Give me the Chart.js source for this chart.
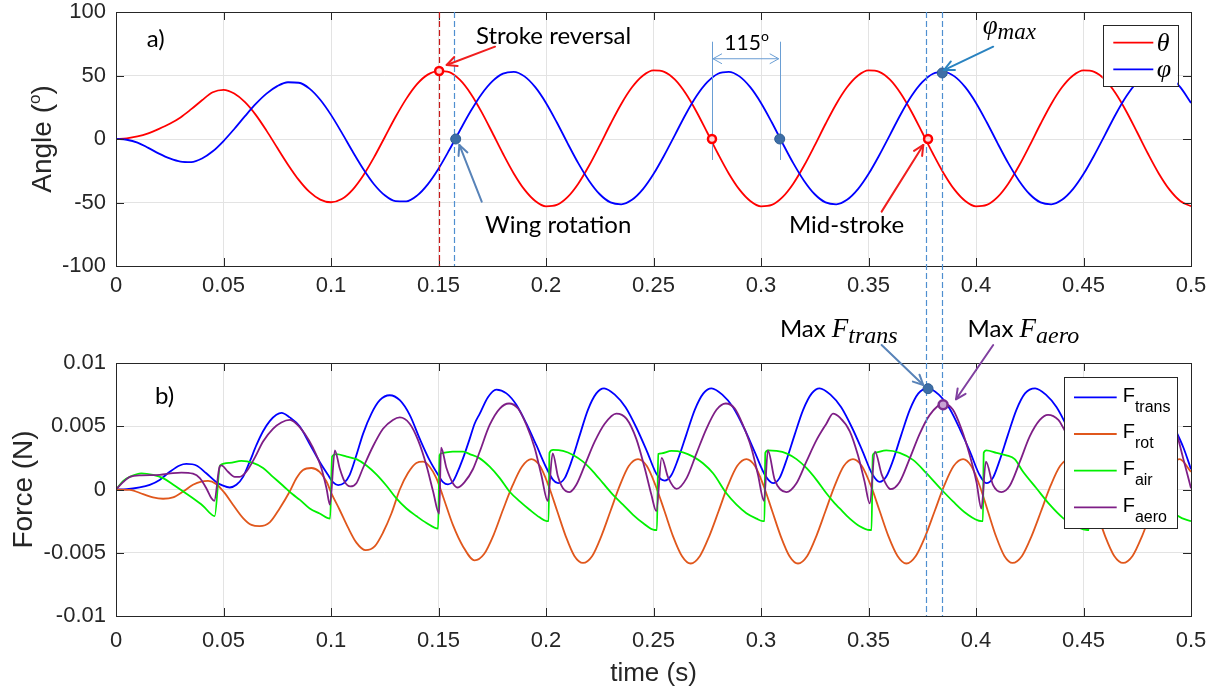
<!DOCTYPE html>
<html>
<head>
<meta charset="utf-8">
<title>Angle and force</title>
<script src="https://cdn.jsdelivr.net/npm/chart.js@4.4.1/dist/chart.umd.min.js"></script>
<style>
  body { margin: 0; background: #fff; }
  #quadro { position: relative; width: 1217px; height: 690px; }
  #quadro canvas { position: absolute; left: 0; }
</style>
</head>
<body>
<div id="quadro">
  <canvas id="graficoAngulo" width="1217" height="300" style="top:0"></canvas>
  <canvas id="graficoForca" width="1217" height="390" style="top:300px"></canvas>
</div>
<script>
// ---- dados ----
const rotulosTempo = ['0', '0.05', '0.1', '0.15', '0.2', '0.25', '0.3', '0.35', '0.4', '0.45', '0.5'];
const rotulosAngulo = ['-100', '-50', '0', '50', '100'];
const rotulosForca = ['-0.01', '-0.005', '0', '0.005', '0.01'];

const tAngulo = [
  0, 0.005, 0.01, 0.015, 0.02, 0.025, 0.03, 0.035, 0.04, 0.045,
  0.05, 0.055, 0.06, 0.065, 0.07, 0.075, 0.08, 0.085, 0.09, 0.095,
  0.1, 0.105, 0.11, 0.115, 0.12, 0.125, 0.13, 0.135, 0.14, 0.145,
  0.15, 0.155, 0.16, 0.165, 0.17, 0.175, 0.18, 0.185, 0.19, 0.195,
  0.2, 0.205, 0.21, 0.215, 0.22, 0.225, 0.23, 0.235, 0.24, 0.245,
  0.25, 0.255, 0.26, 0.265, 0.27, 0.275, 0.28, 0.285, 0.29, 0.295,
  0.3, 0.305, 0.31, 0.315, 0.32, 0.325, 0.33, 0.335, 0.34, 0.345,
  0.35, 0.355, 0.36, 0.365, 0.37, 0.375, 0.38, 0.385, 0.39, 0.395,
  0.4, 0.405, 0.41, 0.415, 0.42, 0.425, 0.43, 0.435, 0.44, 0.445,
  0.45, 0.455, 0.46, 0.465, 0.47, 0.475, 0.48, 0.485, 0.49, 0.495, 0.5
];
// theta (graus)
const theta = [
  0, 0.5, 2.0, 4.5, 8.0, 12.0, 17.0, 23.5, 30.5, 36.8,
  38.7, 35.8, 29.0, 19.0, 6.6, -6.9, -20.2, -32.2, -41.7, -47.7,
  -49.8, -47.3, -40.0, -28.7, -14.5, 1.4, 17.3, 31.6, 43.2, 50.7,
  53.5, 52.7, 46.5, 35.7, 21.4, 5.1, -11.6, -27.1, -39.9, -48.8,
  -53.0, -51.9, -45.8, -35.2, -21.1, -5.0, 11.8, 27.6, 40.7, 49.8,
  54.0, 52.9, 46.7, 35.8, 21.5, 5.1, -11.6, -27.1, -39.9, -48.8,
  -53.0, -51.9, -45.8, -35.2, -21.1, -5.0, 11.8, 27.6, 40.7, 49.8,
  54.0, 52.9, 46.7, 35.8, 21.5, 5.1, -11.6, -27.1, -39.9, -48.8,
  -53.0, -51.9, -45.8, -35.2, -21.1, -5.0, 11.8, 27.6, 40.7, 49.8,
  54.0, 52.9, 46.7, 35.8, 21.5, 5.1, -11.6, -27.1, -39.9, -48.8, -53.0
];
// phi (graus)
const phi = [
  0, -0.6, -2.8, -7.0, -11.5, -15.3, -17.8, -18.2, -15.4, -9.7,
  -1.6, 7.9, 18.0, 27.6, 35.7, 41.6, 44.7, 44.3, 39.7, 30.9,
  19.0, 5.0, -9.7, -23.6, -35.6, -44.3, -48.9, -49.1, -44.6, -35.7,
  -23.4, -8.7, 6.9, 22.0, 35.3, 45.4, 51.5, 52.9, 49.3, 40.8,
  28.4, 13.2, -3.2, -19.0, -32.8, -43.5, -49.9, -51.4, -47.9, -39.7,
  -27.6, -12.8, 3.3, 19.5, 33.8, 44.7, 51.4, 52.9, 49.3, 40.8,
  28.4, 13.2, -3.2, -19.0, -32.8, -43.5, -49.9, -51.4, -47.9, -39.7,
  -27.6, -12.8, 3.3, 19.5, 33.8, 44.7, 51.4, 52.9, 49.3, 40.8,
  28.4, 13.2, -3.2, -19.0, -32.8, -43.5, -49.9, -51.4, -47.9, -39.7,
  -27.6, -12.8, 3.3, 19.5, 33.8, 44.7, 51.4, 52.9, 49.3, 40.8, 28.4
];

// forcas (N): pares [tempo, valor]
const fTrans = [
  [0, 0], [0.005, 0.00002], [0.011, 0.00016], [0.0157, 0.00037], [0.0203, 0.00076], [0.025, 0.0014],
  [0.0296, 0.0019], [0.0327, 0.00202], [0.0374, 0.0019], [0.042, 0.00128], [0.0467, 0.00058],
  [0.0498, 0.0003], [0.0529, 0.00016], [0.056, 0.00037], [0.0591, 0.001], [0.0622, 0.0022],
  [0.0653, 0.0035], [0.0684, 0.0046], [0.0715, 0.0054], [0.0746, 0.0059], [0.077, 0.00606],
  [0.0808, 0.0057], [0.0854, 0.005], [0.0901, 0.0036], [0.0947, 0.0022], [0.0986, 0.00116],
  [0.1009, 0.00058], [0.1033, 0.00035], [0.106, 0.0005], [0.1087, 0.00116], [0.1118, 0.0027],
  [0.1149, 0.0044], [0.1188, 0.006], [0.1227, 0.00706], [0.1273, 0.00745], [0.132, 0.00706],
  [0.1366, 0.0059], [0.1413, 0.004], [0.1459, 0.0023], [0.1498, 0.00116], [0.1521, 0.00058],
  [0.1544, 0.0004], [0.1567, 0.00063], [0.1583, 0.00116], [0.1614, 0.00246], [0.1645, 0.004],
  [0.1668, 0.0052], [0.1692, 0.006], [0.173, 0.0073], [0.1769, 0.0079], [0.1816, 0.0076],
  [0.1862, 0.0067], [0.1909, 0.0052], [0.1955, 0.0035], [0.2002, 0.0017], [0.2033, 0.00076],
  [0.2056, 0.0005], [0.2087, 0.0009], [0.2118, 0.0022], [0.2157, 0.0043], [0.2195, 0.0063],
  [0.2234, 0.0076], [0.227, 0.008],
  [0.232, 0.0075], [0.237, 0.0065], [0.242, 0.0049], [0.247, 0.003], [0.2515, 0.0012], [0.2552, 0.0007],
  [0.2582, 0.0011], [0.2612, 0.0023], [0.2652, 0.0043], [0.2692, 0.0063], [0.2732, 0.0076], [0.277, 0.008],
  [0.282, 0.0075], [0.287, 0.0065], [0.292, 0.0049], [0.297, 0.003], [0.302, 0.0011], [0.3056, 0.0005],
  [0.3086, 0.0009], [0.3116, 0.0022], [0.3156, 0.0043], [0.3196, 0.0063], [0.3236, 0.0076], [0.3273, 0.008],
  [0.3323, 0.0075], [0.3373, 0.0065], [0.3423, 0.0049], [0.3473, 0.003], [0.3518, 0.0012], [0.3552, 0.0006],
  [0.3582, 0.001], [0.3612, 0.0022], [0.3652, 0.0043], [0.3692, 0.0063], [0.3732, 0.0076], [0.3777, 0.008],
  [0.3827, 0.0075], [0.3877, 0.0064], [0.3927, 0.0047], [0.3972, 0.003], [0.4015, 0.0012], [0.4048, 0.0005],
  [0.4078, 0.0009], [0.4108, 0.0022], [0.4148, 0.0043], [0.4188, 0.0063], [0.4228, 0.0076], [0.4275, 0.008],
  [0.4325, 0.0075], [0.4375, 0.0065], [0.4425, 0.0049], [0.4475, 0.003], [0.4515, 0.0012], [0.455, 0.0006],
  [0.458, 0.001], [0.461, 0.0022], [0.465, 0.0043], [0.469, 0.0063], [0.473, 0.0076], [0.4775, 0.008],
  [0.4825, 0.0075], [0.4875, 0.0065], [0.4925, 0.0048], [0.4965, 0.0033], [0.5, 0.0016]
];
const fRot = [
  [0, 0], [0.0064, -0.00003], [0.0126, -0.00037], [0.0172, -0.00063], [0.0219, -0.00073], [0.0265, -0.00063],
  [0.0312, -0.00016], [0.0358, 0.00037], [0.0397, 0.00063], [0.0428, 0.00068], [0.0467, 0.00042],
  [0.0506, -0.00029], [0.0544, -0.0012], [0.0591, -0.00226], [0.063, -0.0028], [0.0668, -0.0029],
  [0.0715, -0.0026], [0.0761, -0.0015], [0.0808, -0.00016], [0.0839, 0.00089], [0.087, 0.00155],
  [0.0909, 0.0017], [0.0947, 0.0014], [0.0979, 0.00063], [0.1002, -0.0003], [0.104, -0.0016],
  [0.1079, -0.003], [0.1118, -0.0042], [0.1161, -0.0048], [0.1203, -0.0045], [0.1242, -0.0034],
  [0.1281, -0.0019], [0.132, 0], [0.1358, 0.0013], [0.1397, 0.0021], [0.1428, 0.0022], [0.1459, 0.0018],
  [0.149, 0.0009], [0.1521, -0.00055], [0.1567, -0.0028], [0.1614, -0.0045], [0.1668, -0.0056],
  [0.1712, -0.0051], [0.1756, -0.0036], [0.18, -0.0016], [0.1844, 0.0003], [0.1888, 0.0018], [0.1932, 0.0024],
  [0.1972, 0.00185], [0.2012, 0.0003], [0.2052, -0.0017], [0.2092, -0.0037], [0.2132, -0.00525], [0.2172, -0.0058],
  [0.2215, -0.00525], [0.2257, -0.0037], [0.23, -0.0017], [0.2343, 0.0003], [0.2385, 0.00185], [0.2428, 0.0024],
  [0.2469, 0.00185], [0.251, 0.0003], [0.2551, -0.0017], [0.2591, -0.0037], [0.2632, -0.00525], [0.2673, -0.00585],
  [0.2716, -0.00525], [0.2759, -0.0037], [0.2803, -0.0017], [0.2846, 0.0003], [0.2889, 0.00185], [0.2932, 0.0024],
  [0.2972, 0.00185], [0.3012, 0.0003], [0.3052, -0.0017], [0.3092, -0.0037], [0.3132, -0.00525], [0.3172, -0.00585],
  [0.3215, -0.00525], [0.3257, -0.0037], [0.33, -0.0017], [0.3343, 0.0003], [0.3385, 0.00185], [0.3428, 0.0024],
  [0.3469, 0.00185], [0.3511, 0.0003], [0.3552, -0.0017], [0.3593, -0.0037], [0.3635, -0.00525], [0.3676, -0.00585],
  [0.372, -0.00525], [0.3764, -0.0037], [0.3808, -0.0017], [0.3852, 0.0003], [0.3896, 0.00185], [0.394, 0.0024],
  [0.3978, 0.00185], [0.4017, 0.0003], [0.4055, -0.0017], [0.4093, -0.0037], [0.4132, -0.00525], [0.417, -0.0058],
  [0.4214, -0.00525], [0.4258, -0.0037], [0.4303, -0.0017], [0.4347, 0.0003], [0.4391, 0.00185], [0.4435, 0.0024],
  [0.4477, 0.00185], [0.4518, 0.0003], [0.456, -0.0017], [0.4601, -0.0037], [0.4643, -0.00525], [0.4684, -0.0058],
  [0.4728, -0.00525], [0.4772, -0.0037], [0.4816, -0.0017], [0.4859, 0.0003], [0.4903, 0.00185], [0.4947, 0.0024],
  [0.5, 0.0014]
];
const fAir = [
  [0, 0], [0.0034, 0.00068], [0.0064, 0.001], [0.0118, 0.00128], [0.0172, 0.00116], [0.0219, 0.0009],
  [0.0265, 0.0004], [0.0312, -0.00016], [0.0358, -0.0007], [0.0405, -0.0013], [0.0459, -0.0021],
  [0.0484, 0.0019], [0.0529, 0.0021], [0.0583, 0.00226], [0.0637, 0.0021], [0.0684, 0.0017], [0.073, 0.001],
  [0.0777, 0.0003], [0.0823, -0.0004], [0.0854, -0.0008], [0.0901, -0.0015], [0.0947, -0.0019],
  [0.0996, -0.0023], [0.1005, 0.0026], [0.1025, 0.0028], [0.1073, 0.0026], [0.1118, 0.0024], [0.1165, 0.0019],
  [0.1211, 0.0012], [0.1258, 0.0003], [0.1304, -0.0007], [0.1351, -0.0015], [0.1397, -0.0021],
  [0.1444, -0.00265], [0.1498, -0.0031], [0.1505, 0.0027], [0.1513, 0.00286], [0.1567, 0.003], [0.1614, 0.003],
  [0.1645, 0.0028], [0.1692, 0.00246], [0.1738, 0.0018], [0.1785, 0.0009], [0.183, -0.00016],
  [0.1878, -0.00094], [0.1924, -0.0016], [0.197, -0.0022], [0.2003, -0.0025], [0.2012, -0.0025],
  [0.2016, 0.0029], [0.2033, 0.00313], [0.2079, 0.00305], [0.2126, 0.00273], [0.2172, 0.0022],
  [0.2219, 0.00142], [0.2265, 0.0005], [0.2312, -0.00042], [0.2358, -0.0012], [0.2405, -0.002],
  [0.2451, -0.00265], [0.2506, -0.0032], [0.2516, -0.0032], [0.2522, 0.0028], [0.2537, 0.00286],
  [0.2583, 0.00305], [0.2637, 0.00294], [0.2684, 0.0026], [0.273, 0.00207], [0.2777, 0.00128],
  [0.2839, -0.0003], [0.2886, -0.0012], [0.2932, -0.00187], [0.2979, -0.0023], [0.3009, -0.0025],
  [0.3016, -0.0025], [0.302, 0.0029], [0.3033, 0.0031], [0.3071, 0.00305], [0.3118, 0.00286],
  [0.3165, 0.0024], [0.3211, 0.0017], [0.3258, 0.00076], [0.3304, -0.0003], [0.3343, -0.0011],
  [0.3366, -0.0015], [0.3413, -0.0023], [0.3459, -0.0029], [0.3506, -0.0032], [0.3514, -0.0032],
  [0.352, 0.0027], [0.3529, 0.0029], [0.3583, 0.0031], [0.3645, 0.0029], [0.3707, 0.00234],
  [0.3769, 0.0013], [0.3839, 0], [0.3893, -0.00094], [0.3955, -0.0019], [0.4025, -0.0025],
  [0.4032, -0.0025], [0.4036, 0.0029], [0.4048, 0.0031], [0.4095, 0.0029], [0.4141, 0.0027],
  [0.418, 0.0024], [0.4219, 0.0014], [0.4281, 0.0001], [0.4343, -0.0012], [0.4405, -0.00226],
  [0.4475, -0.003], [0.4518, -0.0032], [0.4525, -0.0032], [0.453, 0.0027], [0.4545, 0.003],
  [0.459, 0.0031], [0.465, 0.0029], [0.471, 0.0023], [0.477, 0.0012], [0.483, 0], [0.488, -0.0009],
  [0.494, -0.0021], [0.5, -0.0025]
];
const fAero = [
  [0, 0], [0.0034, 0.0006], [0.0064, 0.001], [0.0118, 0.00112], [0.0203, 0.00116], [0.0265, 0.0013],
  [0.0304, 0.00134], [0.0358, 0.00125], [0.039, 0.0009], [0.042, 0.0001], [0.0444, -0.0007],
  [0.0457, -0.0009], [0.0482, 0.0018], [0.049, 0.0019], [0.0521, 0.0014], [0.0552, 0.001], [0.0575, 0.001],
  [0.0606, 0.0014], [0.0645, 0.0025], [0.0684, 0.0038], [0.073, 0.0048], [0.0769, 0.0053], [0.0808, 0.0055],
  [0.0839, 0.0052], [0.0878, 0.0044], [0.0916, 0.0033], [0.0955, 0.0017], [0.0979, 0.0001],
  [0.0995, -0.0012], [0.1018, 0.0031], [0.104, 0.0017], [0.1064, 0.0006], [0.109, 0.00024],
  [0.1118, 0.0005], [0.1149, 0.0017], [0.1195, 0.0034], [0.1242, 0.0048], [0.1288, 0.0055], [0.132, 0.0057],
  [0.1366, 0.0052], [0.1405, 0.0039], [0.1444, 0.0019], [0.1475, -0.00016], [0.1503, -0.0019],
  [0.1512, 0.0033], [0.1537, 0.0017], [0.1567, 0.0005], [0.159, 0.00016], [0.1622, 0.0006], [0.166, 0.0016],
  [0.1692, 0.003], [0.1738, 0.0051], [0.1785, 0.0064], [0.1828, 0.0068], [0.187, 0.0064], [0.1909, 0.0051],
  [0.1947, 0.0033], [0.1978, 0.00116], [0.2008, -0.0009], [0.2031, 0.00286], [0.2056, 0.001],
  [0.2079, 0.0001], [0.211, -0.0002], [0.2141, 0.00037], [0.218, 0.0019], [0.2227, 0.0038],
  [0.2273, 0.0052], [0.2327, 0.006], [0.2374, 0.0056], [0.242, 0.004], [0.2459, 0.0017], [0.249, -0.0004],
  [0.2513, -0.0017], [0.2538, 0.0025], [0.2567, 0.001], [0.2607, 0.00005], [0.2654, 0.0009], [0.27, 0.00286],
  [0.2746, 0.0048], [0.2793, 0.0063], [0.2836, 0.0068], [0.2878, 0.0064], [0.2916, 0.0051], [0.2955, 0.0033],
  [0.2986, 0.00116], [0.3014, -0.0009], [0.3032, 0.0031], [0.3064, 0.00076], [0.3118, -0.0002],
  [0.3165, 0.0005], [0.3211, 0.0022], [0.3258, 0.0039], [0.3304, 0.0052], [0.3335, 0.006], [0.3366, 0.0057],
  [0.3413, 0.0046], [0.3451, 0.0027], [0.3482, 0.0006], [0.3506, -0.0011], [0.353, 0.003], [0.3562, 0.00116],
  [0.3603, 0.00003], [0.3645, 0.0006], [0.3692, 0.00246], [0.3738, 0.0044], [0.3785, 0.0059],
  [0.3847, 0.0068], [0.3893, 0.0063], [0.3932, 0.0048], [0.3971, 0.0027], [0.4002, 0.0006],
  [0.4025, -0.0015], [0.4046, 0.0022], [0.4079, 0.00037], [0.4118, -0.0002], [0.4157, 0.0003],
  [0.4204, 0.0022], [0.425, 0.0042], [0.4297, 0.0055], [0.4335, 0.0059], [0.4383, 0.0055], [0.4405, 0.0049],
  [0.4445, 0.0035], [0.448, 0.0017], [0.451, -0.0005], [0.4525, -0.0016], [0.4538, 0.003], [0.4565, 0.0012],
  [0.461, 0], [0.465, 0.0006], [0.47, 0.0025], [0.4745, 0.0044], [0.479, 0.0059], [0.4855, 0.0068],
  [0.4895, 0.0062], [0.4932, 0.0045], [0.4963, 0.0025], [0.5, 0.0001]
];

// ---- estilo ----
const SANS = '"Liberation Sans", Arial, sans-serif';
const SERIF = '"Liberation Serif", "Times New Roman", serif';
const OFFICE = 'Lato, "Open Sans", sans-serif';
const COR_TEXTO = '#262626';
const COR_GRADE = '#e3e3e3';

function rotulo(lista, min, passo) {
  return valor => {
    const i = Math.round((valor - min) / passo);
    return lista[i] !== undefined ? lista[i] : '';
  };
}

function eixoX(padding, altura) {
  return {
    type: 'linear', min: 0, max: 0.5,
    ticks: {
      stepSize: 0.05, autoSkip: false, maxRotation: 0, padding, color: COR_TEXTO,
      font: { family: SANS, size: 22, lineHeight: 1 }, callback: rotulo(rotulosTempo, 0, 0.05)
    },
    grid: { color: COR_GRADE, drawTicks: false },
    border: { display: false },
    afterFit(escala) {
      escala.height = altura;
      // "0" e "0.5" cabem nas margens fixas
      escala.paddingLeft = 0;
      escala.paddingRight = 0;
    }
  };
}

function eixoY(min, max, passo, lista) {
  return {
    type: 'linear', min, max,
    ticks: {
      stepSize: passo, padding: 10, color: COR_TEXTO,
      font: { family: SANS, size: 22, lineHeight: 1 }, callback: rotulo(lista, min, passo)
    },
    grid: { color: COR_GRADE, drawTicks: false },
    border: { display: false },
    afterFit(escala) {
      escala.width = 116;
      // os rotulos extremos podem sair da area; nao empurra o grafico
      escala.paddingTop = 0;
      escala.paddingBottom = 0;
    }
  };
}

function serie(nome, pontos, cor, ordem) {
  return {
    label: nome,
    data: pontos.map(([x, y]) => ({ x, y })),
    borderColor: cor, borderWidth: 1.8, pointRadius: 0, fill: false,
    cubicInterpolationMode: 'monotone', order: ordem
  };
}

// ---- utilitarios de desenho ----
function ponto(chart, t, v) {
  return { x: chart.scales.x.getPixelForValue(t), y: chart.scales.y.getPixelForValue(v) };
}

function seta(ctx, a, b, cor) {
  const ang = Math.atan2(b.y - a.y, b.x - a.x), L = 11, abertura = 0.45;
  ctx.save();
  ctx.strokeStyle = cor; ctx.lineWidth = 2; ctx.lineCap = 'round'; ctx.lineJoin = 'round';
  ctx.beginPath(); ctx.moveTo(a.x, a.y); ctx.lineTo(b.x, b.y); ctx.stroke();
  ctx.beginPath();
  ctx.moveTo(b.x - L * Math.cos(ang - abertura), b.y - L * Math.sin(ang - abertura));
  ctx.lineTo(b.x, b.y);
  ctx.lineTo(b.x - L * Math.cos(ang + abertura), b.y - L * Math.sin(ang + abertura));
  ctx.stroke();
  ctx.restore();
}

function pontaDupla(ctx, x1, x2, y, cor) {
  ctx.save();
  ctx.strokeStyle = cor; ctx.lineWidth = 1;
  ctx.beginPath(); ctx.moveTo(x1, y); ctx.lineTo(x2, y); ctx.stroke();
  [[x1, 1], [x2, -1]].forEach(([x, s]) => {
    ctx.beginPath();
    ctx.moveTo(x + s * 9, y - 5); ctx.lineTo(x, y); ctx.lineTo(x + s * 9, y + 5);
    ctx.stroke();
  });
  ctx.restore();
}

// partes: [texto, fonte, deslocamento vertical]
function textoComposto(ctx, partes, x, y, alinhar, cor) {
  ctx.save();
  ctx.fillStyle = cor || '#000';
  ctx.textBaseline = 'alphabetic';
  ctx.textAlign = 'left';
  let largura = 0;
  partes.forEach(([txt, fonte]) => { ctx.font = fonte; largura += ctx.measureText(txt).width; });
  let cx = alinhar === 'center' ? x - largura / 2 : x;
  partes.forEach(([txt, fonte, dy]) => {
    ctx.font = fonte;
    ctx.fillText(txt, cx, y + (dy || 0));
    cx += ctx.measureText(txt).width;
  });
  ctx.restore();
}

function tituloVertical(ctx, partes, xBase, yCentro) {
  ctx.save();
  ctx.translate(xBase, yCentro);
  ctx.rotate(-Math.PI / 2);
  textoComposto(ctx, partes, 0, 0, 'center', COR_TEXTO);
  ctx.restore();
}

function linhaTracejada(ctx, x, y1, y2, cor) {
  ctx.save();
  ctx.strokeStyle = cor; ctx.lineWidth = 1.2; ctx.setLineDash([6, 3]);
  ctx.beginPath(); ctx.moveTo(Math.round(x) + 0.5, y1); ctx.lineTo(Math.round(x) + 0.5, y2); ctx.stroke();
  ctx.restore();
}

function marcador(ctx, p, raio, preenchimento, borda, espessura) {
  ctx.save();
  ctx.beginPath(); ctx.arc(p.x, p.y, raio, 0, Math.PI * 2);
  ctx.fillStyle = preenchimento; ctx.fill();
  ctx.lineWidth = espessura; ctx.strokeStyle = borda; ctx.stroke();
  ctx.restore();
}

// caixa dos eixos e marcas internas (estilo MATLAB)
const moldura = {
  id: 'moldura',
  afterDatasetsDraw(chart) {
    const { ctx, chartArea: a, scales } = chart;
    ctx.save();
    ctx.strokeStyle = '#262626'; ctx.lineWidth = 1;
    const L = 8;
    ctx.beginPath();
    scales.x.ticks.forEach(tk => {
      const x = Math.round(scales.x.getPixelForValue(tk.value)) + 0.5;
      ctx.moveTo(x, a.bottom); ctx.lineTo(x, a.bottom - L);
      ctx.moveTo(x, a.top); ctx.lineTo(x, a.top + L);
    });
    scales.y.ticks.forEach(tk => {
      const y = Math.round(scales.y.getPixelForValue(tk.value)) + 0.5;
      ctx.moveTo(a.left, y); ctx.lineTo(a.left + L, y);
      ctx.moveTo(a.right, y); ctx.lineTo(a.right - L, y);
    });
    ctx.stroke();
    ctx.strokeRect(Math.round(a.left) + 0.5, Math.round(a.top) + 0.5,
      Math.round(a.right - a.left), Math.round(a.bottom - a.top));
    ctx.restore();
  }
};

const anotacoesAngulo = {
  id: 'anotacoesAngulo',
  afterDatasetsDraw(chart) {
    const { ctx, chartArea: a } = chart;
    const X = t => chart.scales.x.getPixelForValue(t);
    const Y = v => chart.scales.y.getPixelForValue(v);
    linhaTracejada(ctx, X(0.1503), a.top, a.bottom, '#c81818');
    linhaTracejada(ctx, X(0.1572), a.top, a.bottom, '#4f8fd0');
    linhaTracejada(ctx, X(0.3766), a.top, chart.height, '#4f8fd0');
    linhaTracejada(ctx, X(0.3842), a.top, chart.height, '#4f8fd0');
    // cota de 115 graus
    ctx.save();
    ctx.strokeStyle = '#6a9ed4'; ctx.lineWidth = 1;
    [0.2772, 0.3087].forEach(t => {
      const x = Math.round(X(t)) + 0.5;
      ctx.beginPath(); ctx.moveTo(x, Y(76.6)); ctx.lineTo(x, Y(-16.5)); ctx.stroke();
    });
    ctx.restore();
    pontaDupla(ctx, X(0.2772) + 1, X(0.3087) - 1, Y(63.2), '#6a9ed4');
  },
  afterDraw(chart) {
    const { ctx, chartArea: a } = chart;
    const P = (t, v) => ponto(chart, t, v);
    // marcadores
    marcador(ctx, P(0.1503, 53.5), 4, '#ffd6d6', '#ff0000', 2.5);
    marcador(ctx, P(0.158, 0), 5, '#3d6ea6', '#2e5d93', 1);
    marcador(ctx, P(0.2772, 0), 4, '#ffd6d6', '#ff0000', 2.5);
    marcador(ctx, P(0.3087, 0), 5, '#3d6ea6', '#2e5d93', 1);
    marcador(ctx, P(0.3777, 0), 4, '#ffd6d6', '#ff0000', 2.5);
    marcador(ctx, P(0.3843, 52), 5, '#3d6ea6', '#2e5d93', 1);
    // setas e textos
    seta(ctx, P(0.1763, 72.7), P(0.1538, 58.3), '#f01e1e');
    seta(ctx, P(0.1701, -49.4), P(0.1597, -4.7), '#5883b8');
    seta(ctx, P(0.3561, -57.2), P(0.3755, -4.7), '#f01e1e');
    seta(ctx, P(0.408, 72.7), P(0.3851, 54.3), '#2a83c0');
    const fOffice = '24px ' + OFFICE;
    let p = P(0.1674, 74.8);
    textoComposto(ctx, [['Stroke reversal', fOffice]], p.x, p.y);
    p = P(0.1716, -74);
    textoComposto(ctx, [['Wing rotation', fOffice]], p.x, p.y);
    p = P(0.313, -74);
    textoComposto(ctx, [['Mid-stroke', fOffice]], p.x, p.y);
    p = P(0.4031, 82.7);
    textoComposto(ctx, [['\u03c6', 'italic 27px ' + SERIF], ['max', 'italic 23px ' + SERIF, 5]], p.x, p.y);
    p = P(0.2933, 70.1);
    textoComposto(ctx, [['115', '21px ' + OFFICE], ['o', '14px ' + OFFICE, -9]], p.x, p.y, 'center');
    p = P(0.0143, 72.7);
    textoComposto(ctx, [['a)', '24px ' + OFFICE]], p.x, p.y);
    // titulo do eixo y
    tituloVertical(ctx, [['Angle (', '28px ' + SANS], ['o', '17px ' + SANS, -11], [')', '28px ' + SANS]], 50.5, (a.top + a.bottom) / 2);
    // legenda
    const bx = a.right - 88.3, by = a.top + 13, bw = 74.6, bh = 61;
    ctx.save();
    ctx.fillStyle = '#fff'; ctx.fillRect(bx, by, bw, bh);
    ctx.strokeStyle = '#262626'; ctx.lineWidth = 1;
    ctx.strokeRect(Math.round(bx) + 0.5, Math.round(by) + 0.5, Math.round(bw), Math.round(bh));
    chart.data.datasets.forEach((ds, i) => {
      const y = by + 17.7 + i * 26.6;
      ctx.strokeStyle = ds.borderColor; ctx.lineWidth = 1.8;
      ctx.beginPath(); ctx.moveTo(bx + 10.6, y); ctx.lineTo(bx + 50.6, y); ctx.stroke();
      textoComposto(ctx, [[ds.label, 'italic 26px ' + SERIF]], bx + 54, y + 8);
    });
    ctx.restore();
  }
};

const anotacoesForca = {
  id: 'anotacoesForca',
  afterDatasetsDraw(chart) {
    const { ctx, chartArea: a } = chart;
    const X = t => chart.scales.x.getPixelForValue(t);
    linhaTracejada(ctx, X(0.3766), 0, a.bottom, '#4f8fd0');
    linhaTracejada(ctx, X(0.3842), 0, a.bottom, '#4f8fd0');
  },
  afterDraw(chart) {
    const { ctx, chartArea: a } = chart;
    const P = (t, v) => ponto(chart, t, v);
    marcador(ctx, P(0.3777, 0.00797), 5, '#3d6ea6', '#2e5d93', 1);
    marcador(ctx, P(0.3847, 0.0067), 4.5, '#c9a3d3', '#7e2f8e', 2.5);
    seta(ctx, P(0.3561, 0.01142), P(0.3755, 0.00826), '#5883b8');
    seta(ctx, P(0.408, 0.01142), P(0.3907, 0.00713), '#8040a0');
    const fMax = '24px ' + OFFICE;
    let p = P(0.3088, 0.01208);
    textoComposto(ctx, [['Max ', fMax], ['F', 'italic 27px ' + SERIF], ['trans', 'italic 24px ' + SERIF, 6]], p.x, p.y);
    p = P(0.3961, 0.01208);
    textoComposto(ctx, [['Max ', fMax], ['F', 'italic 27px ' + SERIF], ['aero', 'italic 24px ' + SERIF, 6]], p.x, p.y);
    p = P(0.0181, 0.00678);
    textoComposto(ctx, [['b)', '24px ' + OFFICE]], p.x, p.y);
    // titulos dos eixos
    tituloVertical(ctx, [['Force (N)', '28px ' + SANS]], 32.3, (a.top + a.bottom) / 2);
    textoComposto(ctx, [['time (s)', '26px ' + SANS]], (a.left + a.right) / 2, 380.7, 'center', COR_TEXTO);
    // legenda com subscritos
    const bx = a.right - 126.7, by = a.top + 14.3, bw = 113, bh = 151;
    ctx.save();
    ctx.fillStyle = '#fff'; ctx.fillRect(bx, by, bw, bh);
    ctx.strokeStyle = '#262626'; ctx.lineWidth = 1;
    ctx.strokeRect(Math.round(bx) + 0.5, Math.round(by) + 0.5, Math.round(bw), Math.round(bh));
    chart.data.datasets.forEach((ds, i) => {
      const y = by + 20 + i * 36.7;
      ctx.strokeStyle = ds.borderColor; ctx.lineWidth = 1.8;
      ctx.beginPath(); ctx.moveTo(bx + 9.7, y); ctx.lineTo(bx + 52.4, y); ctx.stroke();
      const [base, sub] = ds.label.split('_');
      textoComposto(ctx, [[base, '20px ' + SANS], [sub, '16px ' + SANS, 10]], bx + 58.4, y + 4.4, 'left', '#000');
    });
    ctx.restore();
  }
};

Chart.defaults.font.family = SANS;

new Chart(document.getElementById('graficoAngulo'), {
  type: 'line',
  data: {
    datasets: [
      serie('\u03b8', tAngulo.map((t, i) => [t, theta[i]]), '#ff0000', 2),
      serie('\u03c6', tAngulo.map((t, i) => [t, phi[i]]), '#0000ff', 1)
    ]
  },
  options: {
    responsive: false, animation: false, events: [],
    layout: { padding: { top: 12, right: 26, left: 0, bottom: 0 } },
    plugins: { legend: { display: false }, tooltip: { enabled: false } },
    scales: { x: eixoX(9, 34), y: eixoY(-100, 100, 50, rotulosAngulo) }
  },
  plugins: [moldura, anotacoesAngulo]
});

new Chart(document.getElementById('graficoForca'), {
  type: 'line',
  data: {
    datasets: [
      serie('F_trans', fTrans, '#0000ff', 4),
      serie('F_rot', fRot, '#e0571c', 3),
      serie('F_air', fAir, '#00f000', 2),
      serie('F_aero', fAero, '#7e1e86', 1)
    ]
  },
  options: {
    responsive: false, animation: false, events: [],
    layout: { padding: { top: 63, right: 26, left: 0, bottom: 0 } },
    plugins: { legend: { display: false }, tooltip: { enabled: false } },
    scales: { x: eixoX(14, 74), y: eixoY(-0.01, 0.01, 0.005, rotulosForca) }
  },
  plugins: [moldura, anotacoesForca]
});
</script>
</body>
</html>
